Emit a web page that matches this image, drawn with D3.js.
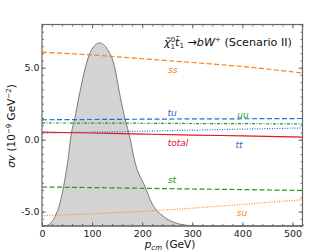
<!DOCTYPE html>
<html>
<head>
<meta charset="utf-8">
<script src="https://cdn.jsdelivr.net/npm/d3@7"></script>
<style>
  body { margin: 0; background: #fff; }
  text { font-family: "DejaVu Sans", sans-serif; }
</style>
</head>
<body>
<div id="chart"></div>
<script>
// chart values
var pcm = [0, 100, 200, 300, 400, 520]
var ss = [6.08, 5.88, 5.62, 5.36, 5.08, 4.63]
var tu = [1.38, 1.40, 1.42, 1.44, 1.45, 1.47]
var uu = [1.16, 1.15, 1.14, 1.12, 1.11, 1.09]
var tt = [0.46, 0.52, 0.59, 0.66, 0.73, 0.81]
var total = [0.52, 0.46, 0.39, 0.32, 0.26, 0.18]
var st = [-3.29, -3.33, -3.38, -3.43, -3.47, -3.53]
var su = [-5.28, -5.15, -4.98, -4.76, -4.50, -4.17]

// momentum distribution (arbitrary scale, drawn above the bottom of the frame)
var distP = [0, 9, 26, 36, 43, 51, 59, 65, 74, 89, 99, 115, 131, 143, 156, 166, 173, 186, 206, 219, 243, 269, 296, 320, 520]
var distV = [-6, -5.97, -5.35, -4.4, -3.29, -1.62, 0.51, 1.39, 3.01, 5.32, 6.25, 6.72, 6.25, 5.32, 3.01, 1.39, 0.51, -1.62, -3.29, -4.4, -5.35, -5.81, -5.97, -6, -6]

var xTicks = [0, 100, 200, 300, 400, 500]
var yTicks = [-5, 0, 5]

var width = 336, height = 252
var margin = {top: 24.5, right: 33.5, bottom: 26, left: 42}

var svg = d3.select("#chart").append("svg")
    .attr("width", width)
    .attr("height", height)

var x = d3.scaleLinear().domain([0, 520]).range([margin.left, width - margin.right])
var y = d3.scaleLinear().domain([-6, 8]).range([height - margin.bottom, margin.top])

// the gray distribution
var area = d3.area()
    .x(function(d) { return x(d[0]) })
    .y0(y(-6))
    .y1(function(d) { return y(d[1]) })
    .curve(d3.curveMonotoneX)
var distData = distP.map(function(p, i) { return [p, distV[i]] })

svg.append("path")
    .datum(distData)
    .attr("d", area)
    .attr("fill", "#d3d3d3")
    .attr("stroke", "#7a7a7a")
    .attr("stroke-width", 1)

// the rate lines
var series = [
  {name: "ss", vals: ss, color: "#ff7f0e", dash: "5,2.5", lx: 173, ly: 73},
  {name: "tu", vals: tu, color: "#1f6fd6", dash: "5,2.5", lx: 172, ly: 116},
  {name: "uu", vals: uu, color: "#1f9a1f", dash: "3,1.5,1,1.5", lx: 243, ly: 118},
  {name: "tt", vals: tt, color: "#1f6fd6", dash: "1,1.5", lx: 239, ly: 148},
  {name: "total", vals: total, color: "#e3141c", dash: null, lx: 178, ly: 146},
  {name: "st", vals: st, color: "#1f9a1f", dash: "5,2.5", lx: 172, ly: 183},
  {name: "su", vals: su, color: "#ff8c1a", dash: "1,1.5", lx: 242, ly: 216}
]

var line = d3.line()
    .x(function(d, i) { return x(pcm[i]) })
    .y(function(d) { return y(d) })
    .curve(d3.curveMonotoneX)

series.forEach(function(s) {
  svg.append("path")
      .attr("d", line(s.vals))
      .attr("fill", "none")
      .attr("stroke", s.color)
      .attr("stroke-width", 1.2)
      .attr("stroke-dasharray", s.dash)
  svg.append("text")
      .attr("x", s.lx)
      .attr("y", s.ly)
      .attr("text-anchor", "middle")
      .attr("font-size", "9px")
      .attr("font-style", "italic")
      .attr("fill", s.color)
      .text(s.name)
})

// axes, ticks pointing inward on all four sides
var xMinor = d3.range(0, 521, 20)
var yMinor = d3.range(-6, 8.01, 0.5)

function styleAxis(g) {
  g.select(".domain").remove()
  g.selectAll(".tick line").attr("stroke", "#555").attr("stroke-width", 0.8)
  g.selectAll(".tick text").attr("fill", "#222").attr("font-size", "9.5px").attr("font-family", "DejaVu Sans")
}

svg.append("g").attr("transform", "translate(0," + y(-6) + ")")
    .call(d3.axisBottom(x).tickValues(xMinor).tickFormat("").tickSize(-2)).call(styleAxis)
svg.append("g").attr("transform", "translate(0," + y(-6) + ")")
    .call(d3.axisBottom(x).tickValues(xTicks).tickSize(-4).tickPadding(4)).call(styleAxis)
svg.append("g").attr("transform", "translate(0," + y(8) + ")")
    .call(d3.axisTop(x).tickValues(xMinor).tickFormat("").tickSize(-2)).call(styleAxis)
svg.append("g").attr("transform", "translate(0," + y(8) + ")")
    .call(d3.axisTop(x).tickValues(xTicks).tickFormat("").tickSize(-4)).call(styleAxis)

svg.append("g").attr("transform", "translate(" + x(0) + ",0)")
    .call(d3.axisLeft(y).tickValues(yMinor).tickFormat("").tickSize(-2)).call(styleAxis)
svg.append("g").attr("transform", "translate(" + x(0) + ",0)")
    .call(d3.axisLeft(y).tickValues(yTicks).tickFormat(d3.format(".1f")).tickSize(-4).tickPadding(2.5)).call(styleAxis)
svg.append("g").attr("transform", "translate(" + x(520) + ",0)")
    .call(d3.axisRight(y).tickValues(yMinor).tickFormat("").tickSize(-2)).call(styleAxis)
svg.append("g").attr("transform", "translate(" + x(520) + ",0)")
    .call(d3.axisRight(y).tickValues(yTicks).tickFormat("").tickSize(-4)).call(styleAxis)

// y labels use a hyphen like the original
svg.selectAll(".tick text").text(function() { return this.textContent.replace("\u2212", "-") })

// frame
svg.append("rect")
    .attr("x", x(0)).attr("y", y(8))
    .attr("width", x(520) - x(0)).attr("height", y(-6) - y(8))
    .attr("fill", "none").attr("stroke", "#666").attr("stroke-width", 1.2)

// title inside the frame
var title = svg.append("text")
    .attr("x", 164).attr("y", 46)
    .attr("font-size", "11.2px").attr("fill", "#111")
title.append("tspan").attr("font-style", "italic").text("\u03c7\u0303")
title.append("tspan").attr("font-size", "7px").attr("dy", -4.5).text("0")
title.append("tspan").attr("font-size", "7px").attr("dx", -4.5).attr("dy", 7).text("1")
title.append("tspan").attr("font-style", "italic").attr("dy", -2.5).text("t\u0303")
title.append("tspan").attr("font-size", "7px").attr("dy", 2).text("1")
title.append("tspan").attr("dy", -2).text(" \u2192")
title.append("tspan").attr("font-style", "italic").text("bW")
title.append("tspan").attr("font-size", "7px").attr("dy", -4).text("+")
title.append("tspan").attr("dy", 4).text("  (Scenario II)")

// axis titles
var xl = svg.append("text")
    .attr("x", 170).attr("y", 248)
    .attr("text-anchor", "middle").attr("font-size", "10.5px").attr("fill", "#111")
xl.append("tspan").attr("font-style", "italic").text("p")
xl.append("tspan").attr("font-style", "italic").attr("font-size", "7px").attr("dy", 2).text("cm")
xl.append("tspan").attr("dy", -2).text(" (GeV)")

var yl = svg.append("text")
    .attr("transform", "translate(15," + 126 + ") rotate(-90)")
    .attr("text-anchor", "middle").attr("font-size", "10.5px").attr("fill", "#111")
yl.append("tspan").attr("font-style", "italic").text("\u03c3v")
yl.append("tspan").text(" (10")
yl.append("tspan").attr("font-size", "7px").attr("dy", -4).text("\u22129")
yl.append("tspan").attr("dy", 4).text(" GeV")
yl.append("tspan").attr("font-size", "7px").attr("dy", -4).text("\u22122")
yl.append("tspan").attr("dy", 4).text(")")
</script>
</body>
</html>
